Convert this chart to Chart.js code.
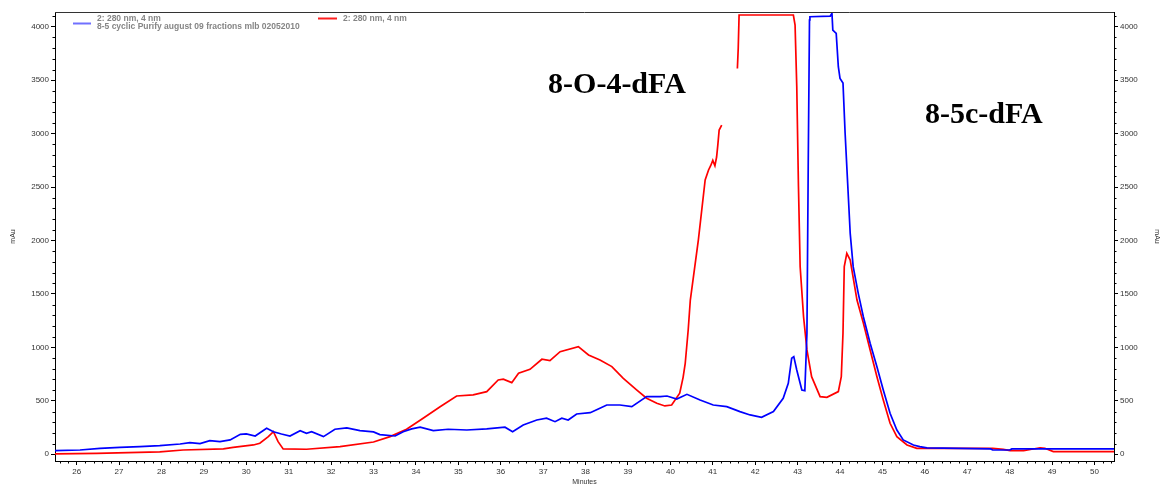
<!DOCTYPE html>
<html><head><meta charset="utf-8">
<script src="https://cdn.jsdelivr.net/npm/chart.js@4.4.1/dist/chart.umd.min.js"></script>
<style>html,body{margin:0;padding:0;background:#fff;}canvas{display:block;}</style>
</head><body>
<canvas id="c" width="1163" height="487"></canvas>
<script>
// ---- data ----
const blueTimes = [25.49,26.08,26.55,27.02,27.49,27.96,28.44,28.67,28.91,29.14,29.38,29.62,29.86,30.0,30.21,30.48,30.64,30.83,31.03,31.27,31.42,31.54,31.82,32.09,32.37,32.68,33.0,33.15,33.51,33.7,33.9,34.1,34.41,34.76,35.2,35.67,36.1,36.28,36.53,36.85,37.08,37.28,37.44,37.59,37.79,38.11,38.3,38.5,38.81,39.09,39.44,39.76,39.92,40.15,40.39,40.7,41.01,41.33,41.64,41.88,42.15,42.43,42.66,42.78,42.86,42.91,42.98,43.1,43.17,43.22,43.25,43.28,43.29,43.77,43.81,43.83,43.91,43.96,44.0,44.07,44.12,44.18,44.24,44.31,44.43,44.55,44.71,44.87,45.02,45.18,45.34,45.49,45.73,45.88,46.05,47.55,47.6,48.0,48.05,50.46];
const blueValues = [34,40,56,65,71,81,96,109,99,127,118,134,187,190,171,243,211,190,171,221,196,211,165,234,246,221,209,184,171,211,237,253,221,234,227,237,253,211,274,321,337,305,337,321,377,389,424,461,461,445,539,539,545,517,561,508,461,445,399,368,346,399,524,664,898,913,789,601,595,1135,2690,4063,4094,4100,4125,3969,3938,3626,3517,3473,3003,2535,2067,1755,1506,1287,1038,819,601,384,227,134,87,71,60,50,40,40,50,50];
const redTimes = [25.49,26.47,27.96,28.51,29.46,29.69,30.17,30.32,30.52,30.64,30.75,30.87,31.42,32.21,33.0,33.39,33.78,34.17,34.57,34.96,35.35,35.67,35.94,36.06,36.26,36.42,36.69,36.97,37.16,37.4,37.83,38.07,38.34,38.62,38.89,39.21,39.44,39.68,39.87,40.03,40.22,40.3,40.35,40.42,40.47,40.66,40.82,40.9,40.95,41.0,41.05,41.09,41.12,41.15,41.21,41.4,41.58,41.6,41.62,42.9,42.94,42.98,43.02,43.06,43.14,43.22,43.33,43.53,43.69,43.96,44.03,44.07,44.1,44.16,44.24,44.4,44.55,44.71,44.87,45.02,45.18,45.34,45.58,45.81,47.6,47.85,48.01,48.33,48.52,48.72,48.83,49.03,50.46];
const redValues = [3,9,22,40,50,65,87,103,165,211,118,50,47,71,115,165,234,337,445,545,555,586,695,702,670,758,795,889,876,960,1007,929,882,820,711,601,524,477,452,461,571,720,851,1163,1443,2005,2566,2660,2700,2750,2700,2781,2900,3034,3080,null,3610,3800,4110,4110,4016,3441,2505,1755,1287,976,726,539,533,586,726,1135,1755,1880,1817,1443,1228,976,726,508,290,165,87,56,56,45,34,34,47,59,56,25,25];
const xTickValues = [26,27,28,29,30,31,32,33,34,35,36,37,38,39,40,41,42,43,44,45,46,47,48,49,50];
const yTickValues = [0,500,1000,1500,2000,2500,3000,3500,4000];
const legendLines = ['2: 280 nm, 4 nm','8-5 cyclic Purify august 09 fractions mlb 02052010'];
const legendLinesRed = ['2: 280 nm, 4 nm'];
const peakNames = ['8-O-4-dFA','8-5c-dFA'];
const peakNameTimes = [38.74, 47.39];
const peakNameValues = [3377, 3096];
const axisTitleY = 'mAu';
const axisTitleX = 'Minutes';

const toPts = (t, v) => t.map((x, i) => ({x: x, y: v[i]}));

const FONT = 'Liberation Sans, Arial, sans-serif';

const extras = {
  id: 'extras',
  afterDraw(chart) {
    const ctx = chart.ctx;
    const ca = chart.chartArea;
    const xs = chart.scales.x, ys = chart.scales.y;
    ctx.save();
    // top border
    ctx.strokeStyle = '#333';
    ctx.lineWidth = 1;
    ctx.beginPath();
    ctx.moveTo(ca.left, ca.top + 0.5);
    ctx.lineTo(ca.right, ca.top + 0.5);
    ctx.stroke();
    // minor ticks x
    ctx.strokeStyle = '#000';
    ctx.beginPath();
    for (let k = Math.ceil(xs.min * 5); k <= Math.floor(xs.max * 5); k++) {
      if (k % 5 === 0) continue;
      const px = Math.round(xs.getPixelForValue(k / 5)) + 0.5;
      ctx.moveTo(px, ca.bottom);
      ctx.lineTo(px, ca.bottom + 2.5);
    }
    // minor ticks y (both sides)
    for (let v = 0; v <= ys.max; v += 100) {
      if (v % 500 === 0) continue;
      const py = Math.round(ys.getPixelForValue(v)) + 0.5;
      ctx.moveTo(ca.left, py); ctx.lineTo(ca.left - 2.5, py);
      ctx.moveTo(ca.right, py); ctx.lineTo(ca.right + 2.5, py);
    }
    ctx.stroke();
    // legend
    ctx.lineWidth = 2;
    ctx.strokeStyle = '#7070ff';
    ctx.beginPath(); ctx.moveTo(73, 23.5); ctx.lineTo(91, 23.5); ctx.stroke();
    ctx.strokeStyle = '#ff2020';
    ctx.beginPath(); ctx.moveTo(318, 18.5); ctx.lineTo(337, 18.5); ctx.stroke();
    ctx.fillStyle = '#858585';
    ctx.font = 'bold 8.5px ' + FONT;
    ctx.textBaseline = 'middle';
    ctx.textAlign = 'left';
    ctx.fillText(legendLines[0], 97, 19);
    ctx.fillText(legendLines[1], 97, 27);
    ctx.fillText(legendLinesRed[0], 343, 19);
    // peak labels
    ctx.fillStyle = '#000';
    ctx.font = 'bold 30px "Liberation Serif", "Times New Roman", serif';
    ctx.textAlign = 'center';
    ctx.textBaseline = 'alphabetic';
    peakNames.forEach((n, i) => {
      ctx.fillText(n, xs.getPixelForValue(peakNameTimes[i]), ys.getPixelForValue(peakNameValues[i]));
    });
    ctx.restore();
  }
};

const tickFont = {family: FONT, size: 8};
const plainLabel = (v) => String(v);
const setYTicks = (s) => { s.ticks = yTickValues.map(v => ({value: v})); };
const yCommon = {
  type: 'linear', min: -63, max: 4138,
  afterBuildTicks: setYTicks,
  ticks: {font: tickFont, color: '#333', padding: 2, autoSkip: false, callback: plainLabel},
  grid: {drawOnChartArea: false, drawTicks: true, tickLength: 4, color: '#000'},
  border: {display: true, color: '#000', width: 1}
};

new Chart(document.getElementById('c'), {
  type: 'line',
  data: {
    datasets: [
      {label: 'blue', data: toPts(blueTimes, blueValues), borderColor: '#0000ff', borderWidth: 1.7, pointRadius: 0, tension: 0, spanGaps: false},
      {label: 'red', data: toPts(redTimes, redValues), borderColor: '#ff0000', borderWidth: 1.7, pointRadius: 0, tension: 0, spanGaps: false}
    ]
  },
  options: {
    responsive: false, animation: false, devicePixelRatio: 1,
    layout: {padding: {top: 12, left: 0, right: 0, bottom: 0}},
    plugins: {legend: {display: false}, tooltip: {enabled: false}},
    scales: {
      x: {
        type: 'linear', min: 25.49, max: 50.46, position: 'bottom',
        afterBuildTicks(s) { s.ticks = xTickValues.map(v => ({value: v})); },
        ticks: {font: tickFont, color: '#333', padding: 2, maxRotation: 0, autoSkip: false, callback: plainLabel},
        grid: {drawOnChartArea: false, drawTicks: true, tickLength: 4, color: '#000'},
        border: {display: true, color: '#000', width: 1},
        title: {display: true, text: axisTitleX, font: {family: FONT, size: 7}, color: '#333', padding: {top: 0, bottom: 0.8}},
        afterFit(s) { s.height = 26; }
      },
      y: Object.assign({}, yCommon, {
        position: 'left',
        title: {display: true, text: axisTitleY, font: {family: FONT, size: 7}, color: '#333', padding: {top: 8.8, bottom: 0}},
        afterFit(s) { s.width = 55; }
      }),
      y2: Object.assign({}, yCommon, {
        position: 'right',
        title: {display: true, text: axisTitleY, font: {family: FONT, size: 7}, color: '#333', padding: {top: 1.8, bottom: 0}},
        afterFit(s) { s.width = 49; }
      })
    }
  },
  plugins: [extras]
});
</script>
</body></html>
